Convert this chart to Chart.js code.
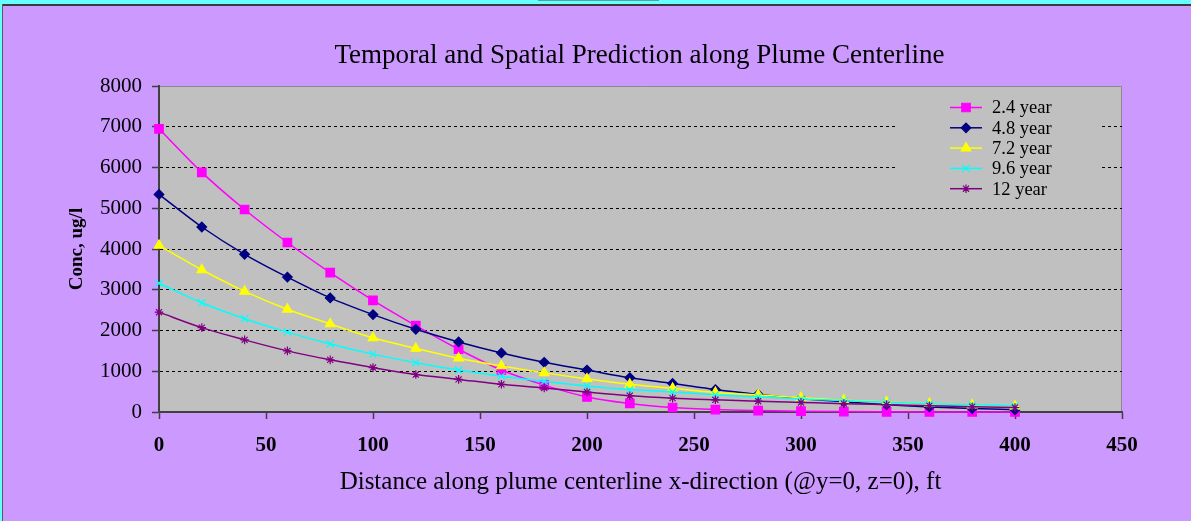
<!DOCTYPE html>
<html>
<head>
<meta charset="utf-8">
<title>Temporal and Spatial Prediction along Plume Centerline</title>
<script src="https://cdn.jsdelivr.net/npm/chart.js@4/dist/chart.umd.min.js"></script>
<style>
  html, body { margin: 0; padding: 0; background: #CC99FF; overflow: hidden; }
  #wrap { position: relative; width: 1191px; height: 521px; }
  #chart { position: absolute; left: 0; top: 0; }
  .frame { position: absolute; }
  #topband { left: 0; top: 0; width: 1191px; height: 4px; background: #66FFFF; }
  #topline { left: 0; top: 4px; width: 1191px; height: 2px; background: #3a3a3a; }
  #tab { left: 538px; top: 0; width: 121px; height: 1px; background: #5F9EA0; }
  #leftband { left: 0; top: 0; width: 2px; height: 521px; background: #66FFFF; }
  #leftline { left: 2px; top: 4px; width: 1px; height: 517px; background: #5a5a5a; }
</style>
</head>
<body>
<div id="wrap">
  <canvas id="chart" width="1191" height="521"></canvas>
  <div class="frame" id="topband"></div>
  <div class="frame" id="tab"></div>
  <div class="frame" id="topline"></div>
  <div class="frame" id="leftband"></div>
  <div class="frame" id="leftline"></div>
</div>
<script>
// Distance along the plume centerline (ft)
const distance = [0, 20, 40, 60, 80, 100, 120, 140, 160, 180, 200,
                  220, 240, 260, 280, 300, 320, 340, 360, 380, 400];

// Predicted concentration (ug/l) at each distance, one list per elapsed time
const conc24 = [6950, 5880, 4970, 4160, 3420, 2740, 2120, 1540, 1030, 660, 370,
                210, 110, 60, 35, 20, 10, 5, 3, 1, 0];
const conc48 = [5340, 4540, 3870, 3310, 2800, 2390, 2030, 1720, 1450, 1220, 1030,
                840, 700, 550, 430, 330, 250, 180, 125, 85, 55];
const conc72 = [4090, 3490, 2960, 2520, 2160, 1820, 1560, 1320, 1130, 960, 810,
                680, 580, 480, 420, 350, 290, 245, 205, 170, 140];
const conc96 = [3160, 2680, 2290, 1960, 1670, 1420, 1210, 1030, 880, 750, 640,
                550, 490, 420, 370, 320, 280, 240, 205, 175, 150];
const conc12 = [2450, 2070, 1770, 1500, 1280, 1090, 920, 800, 680, 590, 490,
                400, 340, 300, 265, 235, 205, 180, 155, 130, 110];

const seriesNames = ['2.4 year', '4.8 year', '7.2 year', '9.6 year', '12 year'];
const seriesValues = [conc24, conc48, conc72, conc96, conc12];

// Axis ranges and tick steps
const xRange = [0, 450];
const xStep = 50;
const yRange = [0, 8000];
const yStep = 1000;

const chartTitle = 'Temporal and Spatial Prediction along Plume Centerline';

const SERIF = "'Liberation Serif', 'Times New Roman', Times, serif";

const styles = [
  { color: '#FF00FF', point: 'rect',     radius: 6   },
  { color: '#000080', point: 'rectRot',  radius: 4.8 },
  { color: '#FFFF00', point: 'triangle', radius: 5.5 },
  { color: '#00FFFF', point: 'crossRot', radius: 5   },
  { color: '#800080', point: 'star',     radius: 4.3 }
];

const datasets = seriesNames.map((name, i) => ({
  label: name,
  data: distance.map((d, j) => ({ x: d, y: seriesValues[i][j] })),
  borderColor: styles[i].color,
  backgroundColor: styles[i].color,
  pointBackgroundColor: styles[i].color,
  pointBorderColor: styles[i].color,
  pointStyle: styles[i].point,
  pointRadius: styles[i].radius,
  pointHoverRadius: styles[i].radius,
  pointBorderWidth: 1.2,
  borderWidth: 1.5,
  cubicInterpolationMode: 'monotone',
  clip: false,
  order: seriesNames.length - i
}));

// Grey plotting area with a thin frame on the top and right
const plotBackground = {
  id: 'plotBackground',
  beforeDraw(chart) {
    const { ctx, chartArea: a } = chart;
    ctx.save();
    ctx.fillStyle = '#C0C0C0';
    ctx.fillRect(a.left, a.top, a.right - a.left, a.bottom - a.top);
    ctx.strokeStyle = '#8a8a8a';
    ctx.lineWidth = 1;
    ctx.beginPath();
    ctx.moveTo(a.left, a.top + 0.5);
    ctx.lineTo(a.right - 0.5, a.top + 0.5);
    ctx.lineTo(a.right - 0.5, a.bottom);
    ctx.stroke();
    ctx.restore();
  }
};

// Chart heading, centred over the plotting area
const centredTitle = {
  id: 'centredTitle',
  afterDraw(chart) {
    const { ctx, chartArea: a } = chart;
    ctx.save();
    ctx.fillStyle = '#000000';
    ctx.font = '27px ' + SERIF;
    ctx.textAlign = 'center';
    ctx.textBaseline = 'middle';
    ctx.fillText(chartTitle, (a.left + a.right) / 2 - 1, a.top - 30);
    ctx.restore();
  }
};

// Legend box inside the top-right corner of the plotting area
const insideLegend = {
  id: 'insideLegend',
  afterDatasetsDraw(chart) {
    const { ctx, chartArea: a } = chart;
    const boxL = a.right - 225, boxR = a.right - 20;
    const boxT = a.top + 7, boxB = a.top + 114;
    ctx.save();
    ctx.fillStyle = '#C0C0C0';
    ctx.fillRect(boxL, boxT, boxR - boxL, boxB - boxT);
    const lineL = a.right - 172, lineR = a.right - 140;
    const textX = a.right - 130;
    chart.data.datasets.forEach((ds, i) => {
      const y = a.top + 21.5 + i * 20.3;
      ctx.strokeStyle = ds.borderColor;
      ctx.lineWidth = 1.5;
      ctx.beginPath();
      ctx.moveTo(lineL, y);
      ctx.lineTo(lineR, y);
      ctx.stroke();
      ctx.fillStyle = ds.pointBackgroundColor;
      ctx.strokeStyle = ds.pointBorderColor;
      ctx.lineWidth = 1.2;
      Chart.helpers.drawPoint(ctx, {
        pointStyle: ds.pointStyle,
        radius: ds.pointRadius,
        rotation: 0,
        borderWidth: 1.2
      }, (lineL + lineR) / 2, y);
      ctx.fillStyle = '#000000';
      ctx.font = '18.5px ' + SERIF;
      ctx.textAlign = 'left';
      ctx.textBaseline = 'middle';
      ctx.fillText(ds.label, textX, y + 1);
    });
    ctx.restore();
  }
};

new Chart(document.getElementById('chart'), {
  type: 'line',
  data: { datasets },
  plugins: [plotBackground, insideLegend, centredTitle],
  options: {
    responsive: false,
    animation: false,
    events: [],
    layout: { padding: { left: 0, right: 69, top: 86, bottom: 0 } },
    plugins: {
      legend: { display: false },
      tooltip: { enabled: false },
      title: { display: false }
    },
    scales: {
      x: {
        type: 'linear',
        min: xRange[0],
        max: xRange[1],
        ticks: {
          stepSize: xStep,
          color: '#000000',
          padding: 14,
          maxRotation: 0,
          callback: v => String(v),
          font: { family: SERIF, size: 21, weight: 'bold' }
        },
        grid: {
          drawOnChartArea: false,
          drawTicks: true,
          tickLength: 7,
          tickColor: '#404040',
          tickWidth: 1.5
        },
        border: { color: '#404040', width: 2 },
        title: {
          display: true,
          text: 'Distance along plume centerline x-direction (@y=0, z=0), ft',
          color: '#000000',
          font: { family: SERIF, size: 25, weight: 'normal' },
          padding: { top: 0, bottom: 24 }
        },
        afterFit(scale) { scale.height = 109; }
      },
      y: {
        type: 'linear',
        min: yRange[0],
        max: yRange[1],
        ticks: {
          stepSize: yStep,
          color: '#000000',
          padding: 10,
          callback: v => String(v),
          font: { family: SERIF, size: 21, weight: 'normal' }
        },
        grid: {
          color: ctx => (ctx.tick && (ctx.tick.value === yRange[0] || ctx.tick.value === yRange[1]))
            ? 'rgba(0,0,0,0)' : '#000000',
          lineWidth: 1,
          drawTicks: true,
          tickLength: 7,
          tickColor: '#404040',
          tickWidth: 1.5,
          tickBorderDash: []
        },
        border: { color: '#404040', width: 2, dash: [3, 3] },
        title: {
          display: true,
          text: 'Conc, ug/l',
          color: '#000000',
          font: { family: SERIF, size: 19, weight: 'bold' },
          padding: { top: 66, bottom: 0 }
        },
        afterFit(scale) { scale.width = 159; }
      }
    }
  }
});
</script>
</body>
</html>
